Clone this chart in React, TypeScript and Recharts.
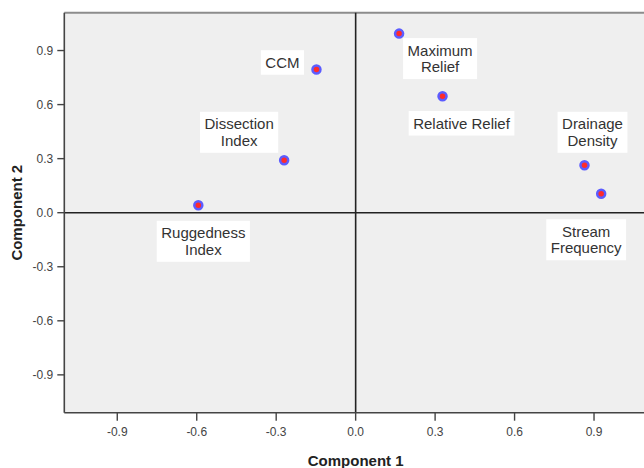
import { Label, ReferenceArea, ReferenceLine, Scatter, ScatterChart, XAxis, YAxis } from "recharts";

const variables = [
    "Ruggedness\nIndex",
    "Dissection\nIndex",
    "CCM",
    "Maximum\nRelief",
    "Relative Relief",
    "Drainage\nDensity",
    "Stream\nFrequency",
];
const component1 = [-0.594, -0.27, -0.148, 0.164, 0.328, 0.864, 0.927];
const component2 = [0.041, 0.291, 0.795, 0.994, 0.646, 0.263, 0.105];
const axisTicks = [-0.9, -0.6, -0.3, 0, 0.3, 0.6, 0.9];

const points = variables.map((name, i) => ({ name, x: component1[i], y: component2[i] }));

// where each label box sits, measured from its marker to the box centre
const labelOffset: Record<string, [number, number]> = {
    "Ruggedness\nIndex": [5, 36],
    "Dissection\nIndex": [-45, -28],
    "CCM": [-34, -7],
    "Maximum\nRelief": [41, 25],
    "Relative Relief": [19, 27],
    "Drainage\nDensity": [8, -33],
    "Stream\nFrequency": [-15, 46],
};

const FONT = "'Liberation Sans', Arial, sans-serif";
const LABEL_SIZE = 15;
const LINE = 16.5;

const ctx = document.createElement("canvas").getContext("2d");
const textWidth = (s: string) => {
    if (!ctx) return s.length * 8;
    ctx.font = `${LABEL_SIZE}px 'Liberation Sans'`;
    return ctx.measureText(s).width;
};

const Marker = (props: any) => {
    const { cx, cy, payload } = props;
    const lines: string[] = payload.name.split("\n");
    const [dx, dy] = labelOffset[payload.name];
    const w = Math.max(...lines.map(textWidth)) + 9;
    const h = lines.length * LINE + 8;
    const bx = cx + dx;
    const by = cy + dy;
    const firstY = by - ((lines.length - 1) * LINE) / 2 + 5.3;
    return (
        <g>
            <rect x={bx - w / 2} y={by - h / 2} width={w} height={h} fill="#ffffff" />
            <text textAnchor="middle" fontSize={LABEL_SIZE} fontFamily={FONT} fill="#333">
                {lines.map((l, i) => (
                    <tspan key={i} x={bx} y={firstY + i * LINE}>
                        {l}
                    </tspan>
                ))}
            </text>
            <circle cx={cx} cy={cy} r={4} fill="#ff2b2b" stroke="#5c5cff" strokeWidth={2.5} />
        </g>
    );
};

const tickStyle = { fill: "#444", fontSize: 12, fontFamily: FONT };

export default function App() {
    return (
        <div style={{ position: "absolute", left: 0, top: 0, width: 644, height: 468, overflow: "hidden", background: "#fff" }}>
            <ScatterChart width={660} height={468} margin={{ top: 12.7, right: 13, bottom: 0, left: 0 }}>
                <ReferenceArea x1={-1.1} x2={1.1} y1={-1.11} y2={1.11} fill="#efefef" fillOpacity={1} stroke="none" />
                <XAxis
                    type="number"
                    dataKey="x"
                    domain={[-1.1, 1.1]}
                    ticks={axisTicks}
                    tickFormatter={(v: number) => v.toFixed(1)}
                    height={55.3}
                    tickSize={8}
                    tickMargin={7}
                    tick={tickStyle}
                    axisLine={{ stroke: "#444", strokeWidth: 1.6 }}
                    tickLine={{ stroke: "#444", strokeWidth: 1.4 }}
                    allowDataOverflow
                >
                    <Label
                        content={({ viewBox }: any) => (
                            <text
                                x={viewBox.x + viewBox.width / 2}
                                y={465.5}
                                textAnchor="middle"
                                fontSize={15}
                                fontWeight="bold"
                                fontFamily={FONT}
                                fill="#222"
                            >
                                Component 1
                            </text>
                        )}
                    />
                </XAxis>
                <YAxis
                    type="number"
                    dataKey="y"
                    domain={[-1.11, 1.11]}
                    ticks={axisTicks}
                    tickFormatter={(v: number) => v.toFixed(1)}
                    width={64.3}
                    tickSize={7}
                    tickMargin={4}
                    tick={tickStyle}
                    axisLine={{ stroke: "#444", strokeWidth: 1.6 }}
                    tickLine={{ stroke: "#444", strokeWidth: 1.4 }}
                    allowDataOverflow
                >
                    <Label
                        content={({ viewBox }: any) => {
                            const cy = viewBox.y + viewBox.height / 2;
                            return (
                                <text
                                    x={17}
                                    y={cy}
                                    transform={`rotate(-90, 17, ${cy})`}
                                    textAnchor="middle"
                                    dominantBaseline="central"
                                    fontSize={15}
                                    fontWeight="bold"
                                    fontFamily={FONT}
                                    fill="#222"
                                >
                                    Component 2
                                </text>
                            );
                        }}
                    />
                </YAxis>
                <ReferenceLine y={1.11} stroke="#8c8c8c" strokeWidth={2} />
                <ReferenceLine x={0} stroke="#222" strokeWidth={1.6} />
                <ReferenceLine y={0} stroke="#222" strokeWidth={1.6} />
                <Scatter data={points} shape={Marker} isAnimationActive={false} />
            </ScatterChart>
        </div>
    );
}
